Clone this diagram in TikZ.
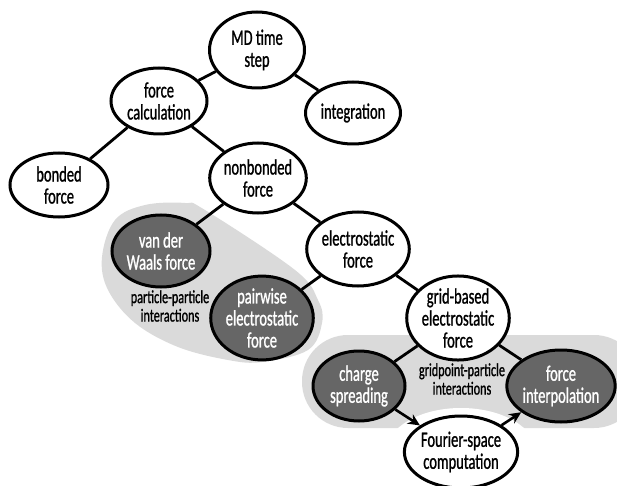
\documentclass[tikz,border=0pt]{standalone}
\usepackage{fontspec}
\setmainfont{Carlito}[FakeStretch=0.66, FakeBold=1.0]
\usetikzlibrary{arrows.meta,shapes.geometric}
\definecolor{hotgray}{RGB}{102,102,102}
\definecolor{zonegray}{RGB}{218,218,218}

\begin{document}
\begin{tikzpicture}[x=1pt, y=-1pt,
  task/.style={ellipse, draw=black, line width=3pt, fill=white, inner sep=0pt,
               minimum width=96pt, minimum height=70pt, align=center,
               font=\fontsize{22}{22}\selectfont},
  hot/.style={task, fill=hotgray, text=white},
  zlabel/.style={font=\fontsize{18.5}{18.5}\selectfont, align=center, inner sep=0pt},
  link/.style={line width=2.8pt},
  arr/.style={-{Stealth[length=12pt, width=11pt]}, line width=2.6pt}
]
\useasboundingbox (0,0) rectangle (617,486);

% Shaded zones
\fill[zonegray] plot[smooth cycle, tension=0.6] coordinates {
  (102,257) (115,220) (145,205) (185,203) (205,210) (295,270) (318,300)
  (322,323) (308,350) (262,362) (228,360) (178,347) (135,323) (108,290)};
\fill[zonegray, rounded corners=46pt] (302,335) rectangle (640,428);
\fill[white] (461,452) ellipse [x radius=75pt, y radius=44pt];

% Tree nodes
\node[task] (mdstep)  at (257,50)  [minimum width=95pt, minimum height=76pt] {MD time\\step};
\node[task] (fcalc)   at (159,101) [minimum height=66pt] {force\\calculation};
\node[task] (integ)   at (353,113) [minimum width=95pt, minimum height=62pt] {integration};
\node[task] (bonded)  at (59,185)  [minimum width=98pt, minimum height=64pt] {bonded\\force};
\node[task] (nonbond) at (258,178) {nonbonded\\force};
\node[hot]  (vdw)     at (161,251) [minimum width=98pt, minimum height=72pt] {van der\\Waals force};
\node[hot]  (pairel)  at (262,318) [minimum width=98pt, minimum height=74pt] {pairwise\\electrostatic\\force};
\node[task] (elstat)  at (358,249) [minimum height=74pt] {electrostatic\\force};
\node[task] (gridel)  at (458,318) [minimum height=68pt] {grid-based\\electrostatic\\force};
\node[hot]  (charge)  at (359,386) [minimum width=92pt] {charge\\spreading};
\node[hot]  (finterp) at (561,386) [minimum height=72pt] {force\\interpolation};
\node[task] (fourier) at (461,452) [minimum width=90pt, minimum height=72pt] {Fourier-space\\computation};

% Zone labels
\node[zlabel] (pplabel) at (170,306) {particle-particle\\interactions};
\node[zlabel] (gplabel) at (462,379) {gridpoint-particle\\interactions};

% Connectors
\draw[link] (mdstep) -- (fcalc);
\draw[link] (mdstep) -- (integ);
\draw[link] (fcalc) -- (bonded);
\draw[link] (fcalc) -- (nonbond);
\draw[link] (nonbond) -- (vdw);
\draw[link] (nonbond) -- (elstat);
\draw[link] (elstat) -- (pairel);
\draw[link] (elstat) -- (gridel);
\draw[link] (gridel) -- (charge);
\draw[link] (gridel) -- (finterp);
\draw[arr] (charge) -- (fourier);
\draw[arr] (fourier) -- (finterp);
\end{tikzpicture}
\end{document}
